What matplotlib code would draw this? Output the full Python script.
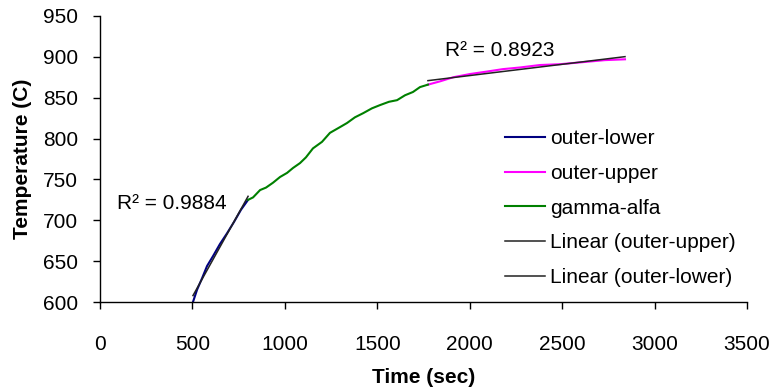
import numpy as np
import matplotlib
matplotlib.use("Agg")
import matplotlib.pyplot as plt

plt.rcParams['font.family'] = ['Liberation Sans', 'DejaVu Sans']

# Heating curves, time (s) vs temperature (C)
lower_t = [503, 525, 552, 579, 611, 649, 687, 725, 763, 801]
lower_T = [600, 615, 629, 644, 656, 671, 684, 698, 713, 725]

gamma_t = [801, 828, 866, 898, 936, 974, 1012, 1044, 1082, 1114, 1152, 1201,
           1244, 1298, 1336, 1379, 1423, 1471, 1515, 1563, 1607, 1650, 1693,
           1731, 1774]
gamma_T = [725, 728, 737, 740, 746, 753, 758, 764, 770, 777, 788, 796,
           807, 814, 819, 826, 831, 837, 841, 845, 847, 853, 857,
           863, 866]

upper_t = [1774, 1839, 1910, 2002, 2093, 2180, 2272, 2380, 2488, 2635, 2732, 2840]
upper_T = [866, 870, 875, 879, 882, 885, 887, 890, 891, 894, 896, 897]

r2_lower = "0.9884"
r2_upper = "0.8923"

x_ticks = [0, 500, 1000, 1500, 2000, 2500, 3000, 3500]
y_ticks = [600, 650, 700, 750, 800, 850, 900, 950]

FS = 15

fig = plt.figure(figsize=(7.73, 3.92), dpi=100)
ax = fig.add_axes([100 / 773, 1 - 302 / 392, 647 / 773, 286 / 392])

ax.plot(lower_t, lower_T, color='#000080', lw=1.5, label='outer-lower', zorder=2)
ax.plot(upper_t, upper_T, color='#FF00FF', lw=1.5, label='outer-upper', zorder=2)
ax.plot(gamma_t, gamma_T, color='#008000', lw=1.5, label='gamma-alfa', zorder=2)

# Linear trendlines
pu = np.polyfit(upper_t, upper_T, 1)
tu = np.array([upper_t[0], upper_t[-1]])
ax.plot(tu, np.polyval(pu, tu), color='#222222', lw=1.1,
        label='Linear (outer-upper)', zorder=3)
pl = np.polyfit(lower_t, lower_T, 1)
tl = np.array([lower_t[0], lower_t[-1]])
ax.plot(tl, np.polyval(pl, tl), color='#222222', lw=1.1,
        label='Linear (outer-lower)', zorder=3)

ax.text(92, 721, "R² = " + r2_lower, fontsize=FS, ha='left', va='center')
ax.text(1866, 908, "R² = " + r2_upper, fontsize=FS, ha='left', va='center')

ax.set_xlim(0, 3500)
ax.set_ylim(600, 950)
ax.set_xticks(x_ticks)
ax.set_yticks(y_ticks)
ax.tick_params(axis='both', direction='out', length=5, width=1, labelsize=FS,
               colors='black')
ax.tick_params(axis='x', pad=19)
ax.tick_params(axis='y', pad=11)
for s in ['top', 'right']:
    ax.spines[s].set_visible(False)
for s in ['left', 'bottom']:
    ax.spines[s].set_linewidth(1)

ax.set_xlabel('Time (sec)', fontsize=FS, fontweight='bold', labelpad=10)
ax.set_ylabel('Temperature (C)', fontsize=FS, fontweight='bold', labelpad=8)

ax.legend(loc='upper left', bbox_to_anchor=(505 / 773, 1 - 129 / 392),
          bbox_transform=fig.transFigure, frameon=False, fontsize=FS,
          handlelength=1.92, handletextpad=0.24, labelspacing=0.76,
          borderpad=0, borderaxespad=0)

fig.savefig('out.png', dpi=100)
